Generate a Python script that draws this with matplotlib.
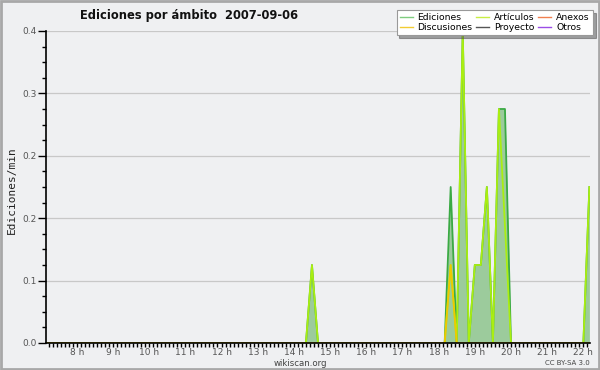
import matplotlib
matplotlib.use("Agg")
import matplotlib.pyplot as plt
from matplotlib.ticker import MultipleLocator, FixedLocator
from matplotlib.patches import Rectangle
from matplotlib.lines import Line2D
import numpy as np

# 10-minute bins (only the bins around activity, the rest is zero)
times = ["07:10", "14:20", "14:30", "14:40", "18:10", "18:20", "18:30", "18:40",
         "18:50", "19:00", "19:10", "19:20", "19:30", "19:40", "19:50", "20:00",
         "22:00", "22:10"]
ediciones = [0, 0, 0.1, 0, 0, 0.2, 0, 0.4, 0, 0.1, 0.1, 0.2, 0, 0.3, 0.3, 0, 0, 0.2]
articulos = [0, 0, 0.1, 0, 0, 0.1, 0, 0.4, 0, 0.1, 0.1, 0.2, 0, 0.3, 0.15, 0, 0, 0.2]
discusiones = [0, 0, 0, 0, 0, 0.1, 0, 0, 0, 0, 0, 0, 0, 0, 0, 0, 0, 0]

hour_ticks = list(range(8, 23))
hour_labels = [f"{h} h" for h in hour_ticks]
y_ticks = [0.0, 0.08, 0.16, 0.24, 0.32, 0.4]

legend_names = ["Ediciones", "Discusiones", "Artículos", "Proyecto", "Anexos", "Otros"]
legend_colors = ["#7fcc7f", "#f2cc33", "#c8ee44", "#555555", "#f08050", "#9b4de6"]

BG = "#eff0f2"

x = np.array([int(t[:2]) + int(t[3:]) / 60 for t in times])

fig = plt.figure(figsize=(6, 3.7), dpi=100, facecolor=BG)
ax = fig.add_axes([46 / 600, 1 - 343 / 370, 544 / 600, 312 / 370])
ax.set_facecolor(BG)

# figure border
fig.add_artist(Rectangle((0.0015, 0.002), 0.997, 0.996, transform=fig.transFigure,
                         fill=False, edgecolor="#a8a8a8", linewidth=2))

ax.fill_between(x, ediciones, color="#9ccb9c", linewidth=0, zorder=1)
ax.plot(x, ediciones, color="#3aaa44", linewidth=1.3, zorder=2)
ax.plot(x, articulos, color="#aaee11", linewidth=1.3, zorder=3)
ax.plot(x, discusiones, color="#f0c800", linewidth=1.3, zorder=4)

ax.set_xlim(7 + 9 / 60, 22 + 11 / 60)
ax.set_ylim(0, 0.4)

ax.xaxis.set_major_locator(FixedLocator(hour_ticks))
ax.set_xticklabels(hour_labels)
ax.xaxis.set_minor_locator(MultipleLocator(1 / 9))
ax.yaxis.set_major_locator(FixedLocator(y_ticks))
ax.set_yticklabels([f"{v:.1f}" for v in y_ticks])
ax.yaxis.set_minor_locator(MultipleLocator(0.02))

ax.tick_params(axis="both", which="major", labelsize=6.5, labelcolor="#555555",
               color="black", width=1)
ax.tick_params(axis="x", which="major", length=3, pad=0.5)
ax.tick_params(axis="x", which="minor", length=3, width=1)
ax.tick_params(axis="y", which="major", length=6, pad=1)
ax.tick_params(axis="y", which="minor", length=3, width=1)

ax.grid(axis="y", color="#c8c8c8", linewidth=0.9)
ax.set_axisbelow(True)
for s in ["top", "right"]:
    ax.spines[s].set_visible(False)
for s in ["left", "bottom"]:
    ax.spines[s].set_linewidth(1.2)
    ax.spines[s].set_zorder(5)

fig.text(12 / 600, 1 - 190 / 370, "Ediciones/min", rotation=90, ha="center",
         va="center", fontsize=8, family="DejaVu Sans Mono", color="#222222")
fig.text(189 / 600, 1 - 15 / 370, "Ediciones por ámbito  2007-09-06", fontsize=8.3,
         fontweight="bold", ha="center", va="center", color="#111111")
fig.text(300 / 600, 1 - 363.5 / 370, "wikiscan.org", fontsize=6.2, ha="center",
         va="center", color="#444444")
fig.text(590 / 600, 1 - 363 / 370, "CC BY-SA 3.0", fontsize=5, ha="right",
         va="center", color="#444444")

handles = [Line2D([], [], color=c, linewidth=1) for c in legend_colors]
leg = fig.legend(handles, legend_names, ncol=3, loc="upper right",
                 bbox_to_anchor=(593 / 600, 1 - 10 / 370), fontsize=6.7,
                 frameon=True, fancybox=False, shadow=True, handlelength=1.4,
                 handletextpad=0.5, columnspacing=0.4, labelspacing=0.1,
                 borderpad=0.35, borderaxespad=0)
leg.get_frame().set_edgecolor("#999999")
leg.get_frame().set_facecolor("white")
leg.get_frame().set_linewidth(0.8)

fig.savefig("out.png", dpi=100, facecolor=BG)
